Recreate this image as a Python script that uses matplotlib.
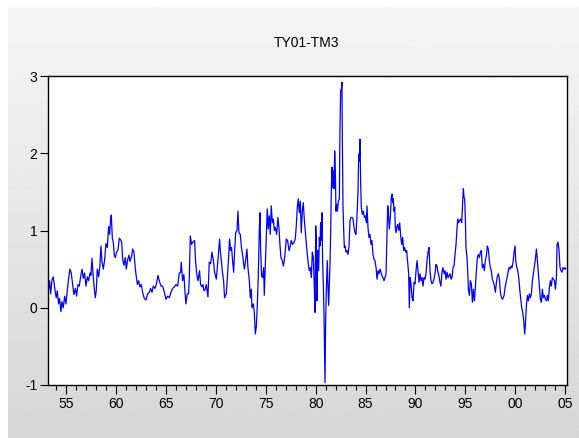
import numpy as np
import matplotlib.pyplot as plt

plt.rcParams['font.family'] = ['Liberation Sans', 'DejaVu Sans']

# ============================
# data (decimal year, spread)
# ============================
years = [
    1953.21, 1953.31, 1953.41, 1953.55, 1953.68, 1953.78, 1953.88, 1953.98, 1954.08, 1954.21,
    1954.31, 1954.45, 1954.55, 1954.68, 1954.82, 1954.95, 1955.08, 1955.22, 1955.35, 1955.48,
    1955.62, 1955.75, 1955.89, 1956.02, 1956.15, 1956.29, 1956.42, 1956.56, 1956.69, 1956.82,
    1956.96, 1957.09, 1957.22, 1957.36, 1957.46, 1957.56, 1957.66, 1957.79, 1957.89, 1957.99,
    1958.09, 1958.23, 1958.36, 1958.46, 1958.56, 1958.70, 1958.83, 1958.96, 1959.10, 1959.23,
    1959.33, 1959.43, 1959.50, 1959.60, 1959.70, 1959.80, 1959.90, 1960.03, 1960.17, 1960.30,
    1960.43, 1960.54, 1960.64, 1960.77, 1960.90, 1961.00, 1961.14, 1961.27, 1961.37, 1961.51,
    1961.64, 1961.77, 1961.91, 1962.01, 1962.11, 1962.24, 1962.37, 1962.51, 1962.64, 1962.81,
    1962.98, 1963.14, 1963.31, 1963.44, 1963.58, 1963.71, 1963.88, 1964.01, 1964.18, 1964.31,
    1964.48, 1964.65, 1964.82, 1964.98, 1965.15, 1965.32, 1965.48, 1965.65, 1965.82, 1965.99,
    1966.15, 1966.32,
    1966.45, 1966.51, 1966.65, 1966.78, 1966.88, 1966.98, 1967.12, 1967.25, 1967.32, 1967.42,
    1967.55, 1967.69, 1967.85, 1967.95, 1968.09, 1968.19, 1968.35, 1968.45, 1968.59, 1968.69,
    1968.79, 1968.92, 1969.02, 1969.12, 1969.19, 1969.32, 1969.46, 1969.59, 1969.72, 1969.86,
    1970.03, 1970.19, 1970.36, 1970.43, 1970.53, 1970.63, 1970.76, 1970.86, 1971.03, 1971.13,
    1971.26, 1971.36, 1971.46, 1971.56, 1971.66, 1971.77, 1971.87, 1971.97, 1972.10, 1972.20,
    1972.30, 1972.43, 1972.57, 1972.70, 1972.84, 1972.97, 1973.10, 1973.20, 1973.34, 1973.44,
    1973.54, 1973.60, 1973.74, 1973.84, 1973.94, 1974.04, 1974.14, 1974.24, 1974.34, 1974.41,
    1974.47, 1974.57, 1974.67, 1974.78, 1974.84, 1974.94, 1975.04, 1975.14, 1975.24, 1975.34,
    1975.44, 1975.54, 1975.65, 1975.75, 1975.85, 1975.95, 1976.08, 1976.21, 1976.31, 1976.41,
    1976.51, 1976.65, 1976.75, 1976.85, 1976.95, 1977.05, 1977.18, 1977.32, 1977.42, 1977.55,
    1977.68, 1977.82, 1977.95, 1978.05, 1978.15, 1978.25, 1978.35, 1978.45, 1978.55, 1978.65,
    1978.75, 1978.85, 1978.95, 1979.09,
    1979.26, 1979.36, 1979.46, 1979.56, 1979.66, 1979.76, 1979.86, 1979.93, 1980.00, 1980.06,
    1980.13, 1980.19, 1980.29, 1980.36, 1980.43, 1980.49, 1980.56, 1980.63, 1980.69, 1980.76,
    1980.83, 1980.89, 1980.93, 1980.99, 1981.06, 1981.16, 1981.23, 1981.30, 1981.36, 1981.43,
    1981.50, 1981.56, 1981.63, 1981.70, 1981.76, 1981.83, 1981.90, 1981.97, 1982.03, 1982.10,
    1982.17, 1982.27, 1982.37, 1982.43, 1982.50, 1982.57, 1982.63, 1982.67, 1982.73, 1982.80,
    1982.87, 1982.94, 1983.04, 1983.14, 1983.24, 1983.34, 1983.44, 1983.54, 1983.64, 1983.74,
    1983.84, 1983.94, 1984.04, 1984.14, 1984.24, 1984.31, 1984.37, 1984.44, 1984.51, 1984.57,
    1984.67, 1984.77, 1984.87, 1984.97, 1985.08, 1985.14, 1985.24, 1985.34, 1985.44, 1985.54,
    1985.64, 1985.74, 1985.84, 1985.94, 1986.05, 1986.15, 1986.25, 1986.35, 1986.45, 1986.55,
    1986.65, 1986.75, 1986.85, 1986.95, 1987.05, 1987.15, 1987.22, 1987.28, 1987.38, 1987.48,
    1987.58, 1987.65, 1987.72, 1987.78, 1987.85, 1987.92, 1987.98, 1988.05, 1988.12, 1988.22,
    1988.32, 1988.42, 1988.52, 1988.62, 1988.72, 1988.82, 1988.92, 1989.02, 1989.12, 1989.22,
    1989.32, 1989.39, 1989.46, 1989.56, 1989.66, 1989.76, 1989.86, 1989.96, 1990.06, 1990.16,
    1990.26, 1990.36, 1990.46, 1990.56, 1990.66, 1990.76, 1990.86, 1990.96, 1991.06, 1991.16,
    1991.26, 1991.36,
    1991.46, 1991.56, 1991.66, 1991.76, 1991.86, 1991.96, 1992.06, 1992.16, 1992.26, 1992.36,
    1992.46, 1992.56, 1992.66, 1992.76, 1992.87, 1992.97, 1993.07, 1993.17, 1993.27, 1993.37,
    1993.47, 1993.57, 1993.67, 1993.77, 1993.87, 1993.97, 1994.07, 1994.14, 1994.24, 1994.34,
    1994.44, 1994.54, 1994.64, 1994.74, 1994.81, 1994.87, 1994.94, 1995.01, 1995.07, 1995.17,
    1995.24, 1995.31, 1995.41, 1995.51, 1995.61, 1995.71, 1995.81, 1995.91, 1996.01, 1996.11,
    1996.21, 1996.31, 1996.41, 1996.51, 1996.61, 1996.71, 1996.81, 1996.91, 1997.01, 1997.11,
    1997.21, 1997.31, 1997.41, 1997.51, 1997.61, 1997.71, 1997.82, 1997.92, 1998.02, 1998.12,
    1998.22, 1998.32, 1998.42, 1998.52, 1998.62, 1998.75, 1998.89, 1998.99, 1999.09, 1999.19,
    1999.29, 1999.39, 1999.49, 1999.59, 1999.69, 1999.79, 1999.89, 1999.99, 2000.06, 2000.16,
    2000.26, 2000.36, 2000.46, 2000.56, 2000.66, 2000.76, 2000.86, 2000.96, 2001.03, 2001.13,
    2001.23, 2001.33, 2001.43, 2001.53, 2001.63, 2001.73, 2001.83, 2001.93, 2002.03, 2002.13,
    2002.23, 2002.33, 2002.43, 2002.53, 2002.63, 2002.73, 2002.83, 2002.93, 2003.03, 2003.13,
    2003.23, 2003.33, 2003.43, 2003.53, 2003.63, 2003.73, 2003.83, 2003.94, 2004.04, 2004.14,
    2004.20, 2004.30, 2004.40, 2004.50, 2004.60, 2004.70, 2004.80, 2004.90, 2005.01, 2005.07,
]

spread = [
    0.25, 0.35, 0.18, 0.36, 0.40, 0.30, 0.20, 0.13, 0.22, 0.05,
    0.12, -0.05, 0.08, 0.00, 0.15, 0.05, 0.22, 0.38, 0.50, 0.45,
    0.30, 0.17, 0.25, 0.15, 0.30, 0.28, 0.40, 0.50, 0.38, 0.45,
    0.28, 0.40, 0.35, 0.45, 0.42, 0.64, 0.45, 0.25, 0.13, 0.22,
    0.50, 0.40, 0.55, 0.80, 0.60, 0.50, 0.62, 0.83, 0.78, 1.05,
    0.95, 1.15, 1.20, 0.90, 0.85, 0.68, 0.65, 0.72, 0.75, 0.90,
    0.88, 0.85, 0.62, 0.55, 0.65, 0.50, 0.62, 0.68, 0.60, 0.65,
    0.76, 0.72, 0.50, 0.40, 0.30, 0.35, 0.27, 0.30, 0.20, 0.12,
    0.10, 0.18, 0.20, 0.25, 0.20, 0.28, 0.25, 0.30, 0.42, 0.35,
    0.28, 0.28, 0.20, 0.11, 0.15, 0.13, 0.20, 0.25, 0.27, 0.30,
    0.28, 0.45,
    0.46, 0.59, 0.35, 0.43, 0.22, 0.05, 0.18, 0.18, 0.39, 0.93,
    0.82, 0.85, 0.87, 0.60, 0.41, 0.35, 0.48, 0.30, 0.27, 0.30,
    0.22, 0.24, 0.30, 0.20, 0.14, 0.59, 0.57, 0.72, 0.63, 0.46,
    0.37, 0.61, 0.89, 0.74, 0.61, 0.48, 0.35, 0.13, 0.18, 0.37,
    0.65, 0.89, 0.74, 0.78, 0.61, 0.46, 0.74, 0.97, 1.00, 1.25,
    0.97, 0.95, 0.76, 0.65, 0.50, 0.61, 0.76, 0.52, 0.35, 0.13,
    0.24, 0.00, 0.05, -0.06, -0.34, -0.25, 0.03, 0.41, 1.00, 1.23,
    0.78, 0.41, 0.39, 0.52, 0.16, 0.54, 0.93, 1.28, 1.02, 1.19,
    0.95, 1.32, 1.10, 1.15, 1.00, 1.04, 0.95, 1.17, 1.04, 0.82,
    0.65, 0.61, 0.54, 0.61, 0.74, 0.89, 0.87, 0.74, 0.78, 0.87,
    0.82, 0.85, 0.89, 1.06, 1.30, 1.41, 1.23, 1.38, 0.97, 1.25,
    1.36, 1.15, 1.00, 0.78,
    0.56, 0.48, 0.52, 0.39, 0.72, 0.65, 0.26, -0.06, 1.06, 0.82,
    0.09, 0.74, 0.48, 0.91, 0.80, 1.10, 0.87, 1.23, 0.61, 0.31,
    -0.10, -0.60, -0.97, -0.21, 0.22, 0.61, 0.26, 0.03, 0.26, 0.56,
    0.97, 1.49, 1.82, 1.56, 1.77, 1.54, 2.03, 1.77, 1.25, 1.34,
    1.25, 1.38, 1.41, 2.31, 2.81, 2.83, 2.92, 2.20, 1.34, 1.02,
    0.78, 0.80, 0.72, 0.74, 0.69, 0.80, 1.13, 1.17, 1.17, 1.15,
    1.04, 0.97, 0.95, 1.19, 1.51, 1.99, 1.90, 2.18, 1.60, 1.30,
    1.21, 1.25, 1.17, 1.19, 1.10, 1.32, 1.04, 0.91, 0.95, 0.82,
    0.87, 0.69, 0.63, 0.61, 0.52, 0.37, 0.48, 0.44, 0.50, 0.46,
    0.41, 0.39, 0.35, 0.39, 0.44, 0.95, 1.32, 1.25, 1.02, 1.17,
    1.43, 1.47, 1.36, 1.41, 1.25, 1.30, 1.04, 0.97, 1.04, 1.08,
    1.00, 1.10, 0.93, 0.82, 0.91, 0.74, 0.78, 0.72, 0.74, 0.59,
    0.44, 0.00, 0.39, 0.31, 0.13, 0.09, 0.33, 0.31, 0.48, 0.61,
    0.48, 0.33, 0.44, 0.35, 0.39, 0.28, 0.39, 0.37, 0.44, 0.61,
    0.72, 0.78,
    0.48, 0.35, 0.31, 0.33, 0.37, 0.44, 0.56, 0.54, 0.46, 0.41,
    0.33, 0.28, 0.46, 0.52, 0.44, 0.48, 0.37, 0.46, 0.39, 0.41,
    0.44, 0.37, 0.39, 0.52, 0.54, 0.69, 0.82, 0.97, 1.15, 1.10,
    1.13, 1.15, 1.10, 1.38, 1.54, 1.43, 1.41, 1.13, 0.78, 0.65,
    0.48, 0.24, 0.16, 0.35, 0.31, 0.07, 0.24, 0.09, 0.26, 0.48,
    0.65, 0.69, 0.65, 0.72, 0.74, 0.52, 0.56, 0.48, 0.61, 0.67,
    0.80, 0.76, 0.61, 0.52, 0.48, 0.37, 0.33, 0.28, 0.20, 0.33,
    0.41, 0.44, 0.37, 0.20, 0.13, 0.11, 0.16, 0.26, 0.33, 0.39,
    0.46, 0.52, 0.50, 0.54, 0.52, 0.59, 0.72, 0.80, 0.61, 0.52,
    0.48, 0.39, 0.24, 0.11, 0.00, -0.06, -0.17, -0.34, -0.21, 0.03,
    0.16, 0.09, 0.18, 0.13, 0.18, 0.35, 0.44, 0.52, 0.63, 0.76,
    0.61, 0.44, 0.26, 0.11, 0.07, 0.24, 0.13, 0.16, 0.11, 0.09,
    0.16, 0.09, 0.26, 0.35, 0.28, 0.39, 0.37, 0.35, 0.24, 0.39,
    0.82, 0.85, 0.74, 0.52, 0.48, 0.46, 0.52, 0.50, 0.52, 0.50,
]

tick_years = [1955, 1960, 1965, 1970, 1975, 1980, 1985, 1990, 1995, 2000, 2005]
tick_labels = ["55", "60", "65", "70", "75", "80", "85", "90", "95", "00", "05"]
minor_years = list(range(1954, 2006))
y_ticks = [-1, 0, 1, 2, 3]
y_labels = ["-1", "0", "1", "2", "3"]

# ============================
# figure
# ============================
W, H = 579, 438
fig = plt.figure(figsize=(W / 100, H / 100), dpi=100)
fig.patch.set_facecolor("white")

# gray gradient panel behind the plot
bg = fig.add_axes([8 / W, 0, 1 - 8 / W, 1 - 7 / H])
grad = np.linspace(0.960, 0.840, 256).reshape(-1, 1)
bg.imshow(grad, aspect="auto", cmap="gray", vmin=0, vmax=1, extent=[0, 1, 0, 1])
bg.axis("off")

ax = fig.add_axes([48 / W, 53 / H, 519 / W, 309 / H])
ax.set_facecolor("white")
ax.plot(years, spread, color="#0000ff", lw=0.9)

ax.set_xlim(1953.15, 2005.2)
ax.set_ylim(-1, 3)
ax.set_xticks(tick_years)
ax.set_xticklabels(tick_labels)
ax.set_xticks(minor_years, minor=True)
ax.set_yticks(y_ticks)
ax.set_yticklabels(y_labels)

ax.tick_params(axis="x", which="major", direction="out", length=6.5, width=0.8, pad=2,
               labelsize=10, colors="black")
ax.tick_params(axis="x", which="minor", direction="out", length=3.5, width=0.8)
ax.tick_params(axis="y", which="major", direction="out", length=5.5, width=0.8, pad=2,
               labelsize=10, colors="black")
for s in ax.spines.values():
    s.set_color("black")
    s.set_linewidth(1.0)

fig.text(307 / W, 1 - 43 / H, "TY01-TM3", ha="center", va="center", fontsize=10)

fig.savefig("out.png", dpi=100)
